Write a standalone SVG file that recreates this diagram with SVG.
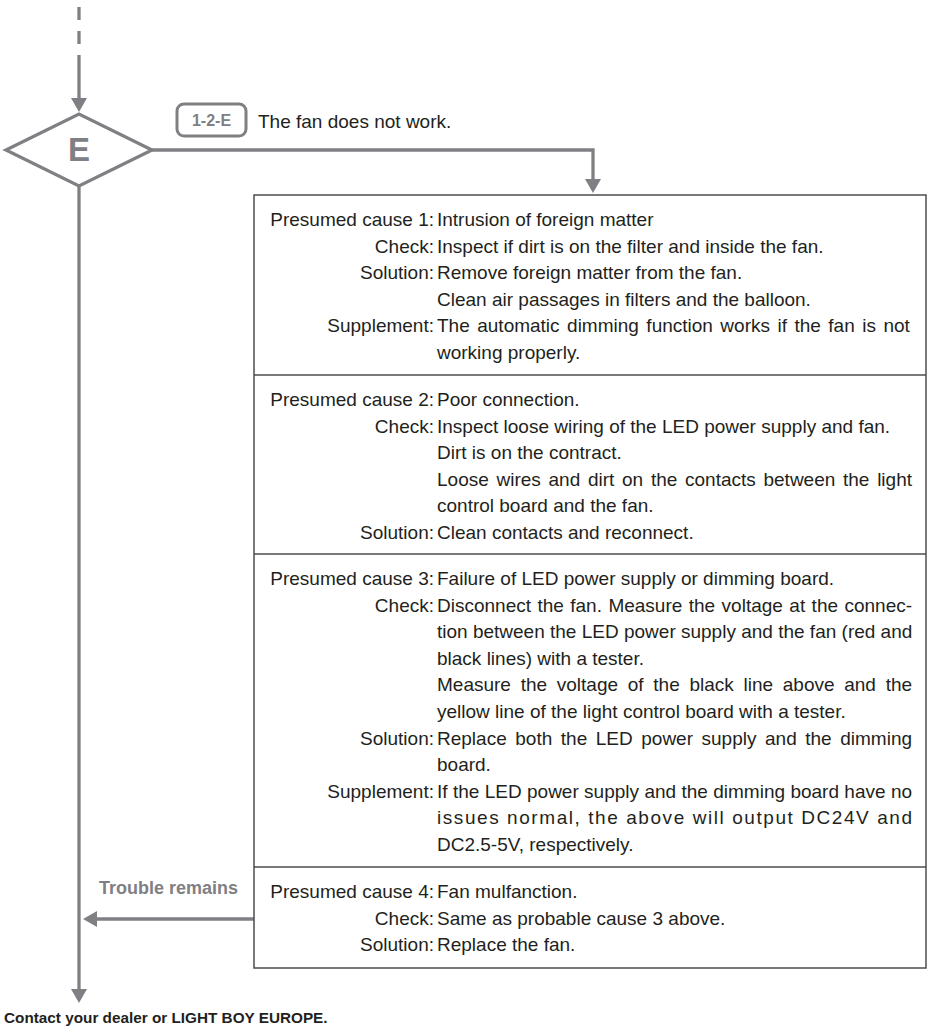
<svg xmlns="http://www.w3.org/2000/svg" width="938" height="1027" viewBox="0 0 938 1027">
<style>
.ln{fill:none;stroke:#808084;stroke-width:3.3}
.t{font-family:"Liberation Sans",Arial,sans-serif;font-size:19px;fill:#231f20}
.lb{text-anchor:end}
.box{fill:#fff;stroke:#4d4d4d;stroke-width:1.5}
.sep{stroke:#4d4d4d;stroke-width:1.5}
.gb{font-family:"Liberation Sans",Arial,sans-serif;font-weight:bold;fill:#808084}
</style>
<defs>
<marker id="ah" viewBox="0 0 14 16" refX="2" refY="8" markerWidth="14" markerHeight="16" markerUnits="userSpaceOnUse" orient="auto">
<path d="M0,0 L14,8 L0,16 z" fill="#808084"/>
</marker>
</defs>
<rect width="938" height="1027" fill="#fff"/>
<g id="connectors">
<path class="ln" d="M79,7 V44" stroke-dasharray="13 11"/>
<path class="ln" d="M79,55 V100" marker-end="url(#ah)"/>
<path class="ln" d="M152,150 H593 V181" marker-end="url(#ah)"/>
<path class="ln" d="M79,186 V991" marker-end="url(#ah)"/>
<path class="ln" d="M254,919 H95" marker-end="url(#ah)"/>
</g>
<g id="decision-E">
<polygon points="6,150 79,114 152,150 79,186" fill="#fff" stroke="#808084" stroke-width="3.3"/>
<text class="gb" x="79" y="161" font-size="33" text-anchor="middle">E</text>
</g>
<g id="badge-1-2-E">
<rect x="177" y="104" width="69" height="32" rx="7" fill="#fff" stroke="#808084" stroke-width="3"/>
<text class="gb" x="211.5" y="126" font-size="16" text-anchor="middle">1-2-E</text>
<text class="t" x="258" y="128">The fan does not work.</text>
</g>
<g id="causes-box">
<rect class="box" x="254" y="195" width="672" height="773"/>
<line class="sep" x1="254" y1="375" x2="926" y2="375"/>
<line class="sep" x1="254" y1="554" x2="926" y2="554"/>
<line class="sep" x1="254" y1="867" x2="926" y2="867"/>
</g>
<g id="cause-1">
<text class="t lb" x="434" y="226">Presumed cause 1:</text>
<text class="t" x="437" y="226">Intrusion of foreign matter</text>
<text class="t lb" x="434" y="252.6">Check:</text>
<text class="t" x="437" y="252.6">Inspect if dirt is on the filter and inside the fan.</text>
<text class="t lb" x="434" y="279.2">Solution:</text>
<text class="t" x="437" y="279.2">Remove foreign matter from the fan.</text>
<text class="t" x="437" y="305.8">Clean air passages in filters and the balloon.</text>
<text class="t lb" x="434" y="332.4">Supplement:</text>
<text class="t" x="437" y="332.4" word-spacing="2.2">The automatic dimming function works if the fan is not</text>
<text class="t" x="437" y="359">working properly.</text>
</g>
<g id="cause-2">
<text class="t lb" x="434" y="406">Presumed cause 2:</text>
<text class="t" x="437" y="406">Poor connection.</text>
<text class="t lb" x="434" y="432.6">Check:</text>
<text class="t" x="437" y="432.6">Inspect loose wiring of the LED power supply and fan.</text>
<text class="t" x="437" y="459.2">Dirt is on the contract.</text>
<text class="t" x="437" y="485.8" word-spacing="2.43">Loose wires and dirt on the contacts between the light</text>
<text class="t" x="437" y="512.4">control board and the fan.</text>
<text class="t lb" x="434" y="539">Solution:</text>
<text class="t" x="437" y="539">Clean contacts and reconnect.</text>
</g>
<g id="cause-3">
<text class="t lb" x="434" y="585">Presumed cause 3:</text>
<text class="t" x="437" y="585">Failure of LED power supply or dimming board.</text>
<text class="t lb" x="434" y="611.6">Check:</text>
<text class="t" x="437" y="611.6" word-spacing="1.16">Disconnect the fan. Measure the voltage at the connec-</text>
<text class="t" x="437" y="638.2">tion between the LED power supply and the fan (red and</text>
<text class="t" x="437" y="664.8">black lines) with a tester.</text>
<text class="t" x="437" y="691.4" word-spacing="4.43">Measure the voltage of the black line above and the</text>
<text class="t" x="437" y="718">yellow line of the light control board with a tester.</text>
<text class="t lb" x="434" y="744.6">Solution:</text>
<text class="t" x="437" y="744.6" word-spacing="3.27">Replace both the LED power supply and the dimming</text>
<text class="t" x="437" y="771.2">board.</text>
<text class="t lb" x="434" y="797.8">Supplement:</text>
<text class="t" x="437" y="797.8" word-spacing="0.08">If the LED power supply and the dimming board have no</text>
<text class="t" x="437" y="824.4" textLength="475" lengthAdjust="spacing">issues normal, the above will output DC24V and</text>
<text class="t" x="437" y="851">DC2.5-5V, respectively.</text>
</g>
<g id="cause-4">
<text class="t lb" x="434" y="898">Presumed cause 4:</text>
<text class="t" x="437" y="898">Fan mulfanction.</text>
<text class="t lb" x="434" y="924.6">Check:</text>
<text class="t" x="437" y="924.6">Same as probable cause 3 above.</text>
<text class="t lb" x="434" y="951.2">Solution:</text>
<text class="t" x="437" y="951.2">Replace the fan.</text>
</g>
<g id="trouble-remains">
<text class="gb" x="238" y="894" font-size="18" text-anchor="end">Trouble remains</text>
</g>
<g id="contact">
<text x="4" y="1023" font-family="Liberation Sans,Arial,sans-serif" font-weight="bold" font-size="15.3" fill="#231f20">Contact your dealer or LIGHT BOY EUROPE.</text>
</g>
</svg>
